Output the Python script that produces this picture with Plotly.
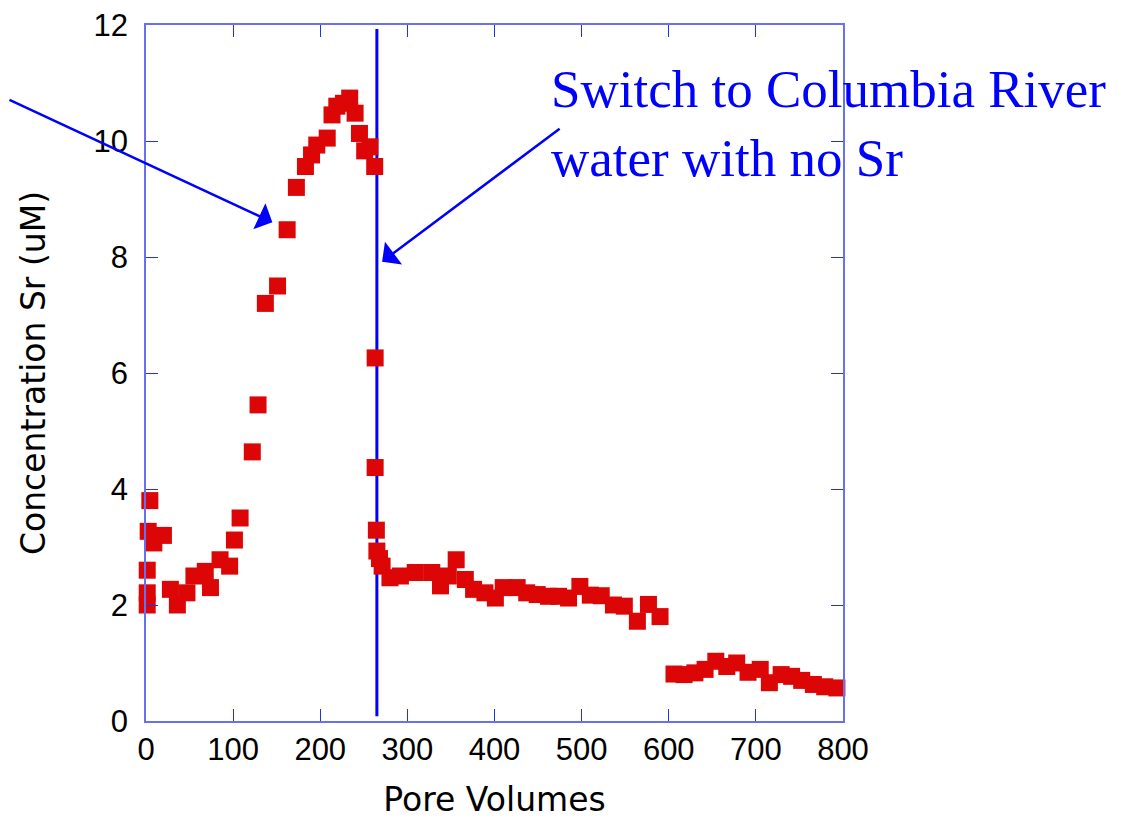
import plotly.graph_objects as go

# Pore volumes and Sr concentration (uM)
pore_volumes = [1.4, 1.4, 1.4, 2.5, 4.4, 9, 20, 28, 36, 47, 55, 68, 74, 85, 96, 101.5, 108,
                122, 128.6, 137, 151, 162, 172.6, 183, 190, 196, 208, 213.5, 219, 226.6, 233.8,
                240, 245, 251, 257, 262.5, 263, 263, 264.4, 265, 268, 271, 280, 292, 309, 328,
                338, 347, 356, 366.5, 376, 389, 401, 410, 426, 437, 449, 462, 473.5, 485, 498,
                510, 522.5, 536.5, 549, 564, 576.7, 590, 606, 617.6, 630, 641.7, 654, 666.6,
                678, 691, 705, 715.5, 729, 741, 752.6, 766, 779, 793]
sr_conc = [2.0, 2.21, 2.6, 3.27, 3.8, 3.07, 3.2, 2.27, 2.0, 2.21, 2.5, 2.58, 2.3, 2.78, 2.67, 3.12, 3.5,
           4.64, 5.45, 7.2, 7.5, 8.47, 9.2, 9.56, 9.76, 9.93, 10.05, 10.45, 10.6, 10.65, 10.74,
           10.48, 10.13, 9.83, 9.9, 9.56, 6.26, 4.37, 3.29, 2.93, 2.8, 2.67, 2.47, 2.5, 2.56, 2.56,
           2.33, 2.5, 2.78, 2.44, 2.27, 2.21, 2.12, 2.3, 2.3, 2.21, 2.18, 2.15, 2.15, 2.12, 2.32,
           2.17, 2.16, 2.0, 1.98, 1.72, 2.01, 1.8, 0.81, 0.8, 0.83, 0.89, 1.03, 0.94,
           1.0, 0.84, 0.89, 0.66, 0.8, 0.77, 0.7, 0.63, 0.59, 0.57]

# Switch point (pore volumes) and extent of the marker line
switch_pv = 265
switch_line_y = [0.08, 11.93]

x_ticks = [0, 100, 200, 300, 400, 500, 600, 700, 800]
y_ticks = [0, 2, 4, 6, 8, 10, 12]

fig = go.Figure()
fig.add_trace(go.Scatter(
    x=[switch_pv, switch_pv], y=switch_line_y, mode="lines",
    line=dict(color="#0000ff", width=3), showlegend=False, hoverinfo="skip"))
fig.add_trace(go.Scatter(
    x=pore_volumes, y=sr_conc, mode="markers",
    marker=dict(symbol="square", size=17, color="#dc0606", line=dict(width=0)),
    cliponaxis=False, showlegend=False))

axis_common = dict(
    showgrid=False, zeroline=False, showline=True, linecolor="#6670f0", linewidth=1.5,
    mirror="allticks", ticks="inside", ticklen=12, tickwidth=1.2, tickcolor="#2233dd",
    tickfont=dict(family="Liberation Sans", size=31, color="black"),
    ticklabeloverflow="allow", automargin=False,
)

fig.update_xaxes(range=[0, 800], tickvals=x_ticks,
                 title=dict(text="Pore Volumes", font=dict(family="DejaVu Sans", size=33, color="black"), standoff=25),
                 **axis_common)
fig.update_yaxes(range=[0, 12], tickvals=y_ticks, ticklabelstandoff=10,
                 title=dict(text="Concentration Sr (uM)", font=dict(family="DejaVu Sans", size=33, color="black"), standoff=38),
                 **axis_common)

# Arrows
fig.add_annotation(x=145, y=8.6, xref="x", yref="y", text="", showarrow=True,
                   ax=-286, ay=-123, arrowhead=1, arrowsize=1.9, arrowwidth=2.5, arrowcolor="#0000ff")
fig.add_annotation(x=271, y=7.92, xref="x", yref="y", text="", showarrow=True,
                   ax=179, ay=-134, arrowhead=1, arrowsize=1.9, arrowwidth=2.5, arrowcolor="#0000ff")
fig.add_annotation(x=463, y=11.43, xref="x", yref="y", xanchor="left", yanchor="top", align="left",
                   text="Switch to Columbia River<br>water with no Sr", showarrow=False,
                   font=dict(family="Liberation Serif", size=53, color="#0000ff"))

fig.update_layout(
    width=1121, height=811, plot_bgcolor="white", paper_bgcolor="white",
    margin=dict(l=137.5, r=286, t=17, b=97.5), autosize=False,
)
fig.write_html("out.html")
